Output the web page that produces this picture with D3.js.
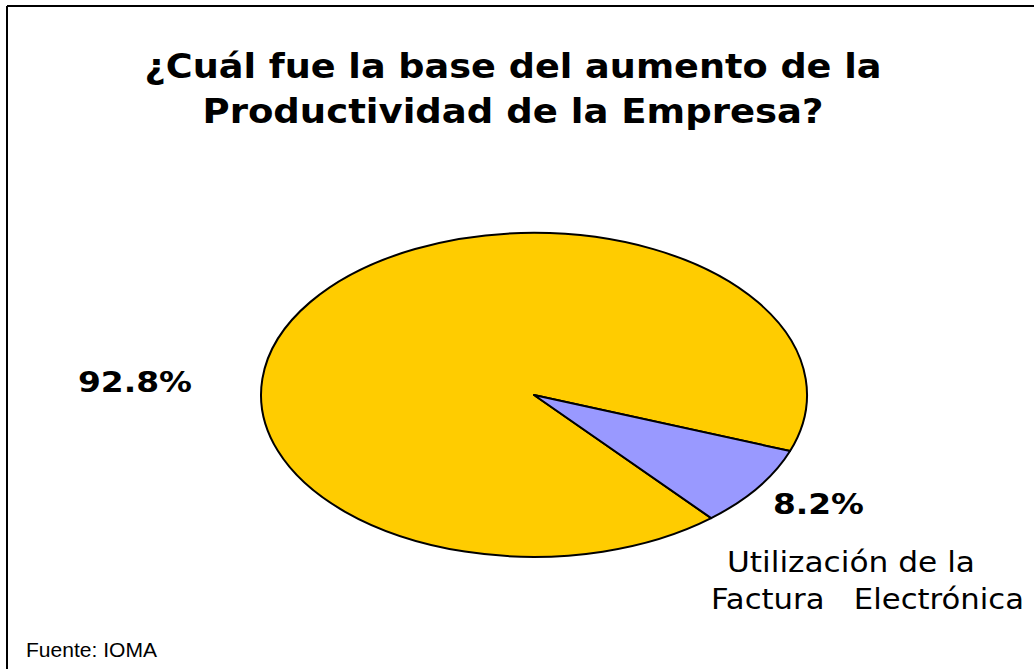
<!DOCTYPE html>
<html>
<head>
<meta charset="utf-8">
<script src="https://cdn.jsdelivr.net/npm/d3@7"></script>
<style>
  body { margin: 0; background: #fff; }
  svg { display: block; }
</style>
</head>
<body>
<svg id="chart" width="1034" height="669"></svg>
<script>
/*** DATA ***/
let categories = ["", "Utilización de la Factura Electrónica"],
    values     = [92.8, 8.2],
    valueLabels = ["92.8%", "8.2%"],
    colors     = ["#FFCC00", "#9999FF"];

let titleLines   = ["¿Cuál fue la base del aumento de la", "Productividad de la Empresa?"],
    catLines     = ["Utilización de la", "Factura   Electrónica"],
    sourceText   = "Fuente: IOMA";

/*** SETUP ***/
let width = 1034, height = 669;
let svg = d3.select("#chart");

// frame (top + left only, as in the picture)
svg.append("line").attr("x1", 7).attr("y1", 6).attr("x2", width).attr("y2", 6)
    .attr("stroke", "#000").attr("stroke-width", 2);
svg.append("line").attr("x1", 7).attr("y1", 6).attr("x2", 7).attr("y2", height)
    .attr("stroke", "#000").attr("stroke-width", 2);

// title
let titleY = [78, 123], titleW = [737, 621];
svg.selectAll(".title").data(titleLines).enter().append("text")
    .attr("class", "title")
    .attr("x", 513)
    .attr("y", (d, i) => titleY[i])
    .attr("text-anchor", "middle")
    .attr("textLength", (d, i) => titleW[i])
    .attr("lengthAdjust", "spacingAndGlyphs")
    .style("font-family", "'DejaVu Sans', Verdana, sans-serif")
    .style("font-weight", "bold")
    .style("font-size", "33px")
    .text(d => d);

/*** PIE ***/
let cx = 534, cy = 395, rx = 273, ry = 162;
let rot = 139.5 * Math.PI / 180;

let pie = d3.pie().sort(null).value(d => d)
    .startAngle(rot).endAngle(rot + 2 * Math.PI);
let arc = d3.arc().innerRadius(0).outerRadius(1);

let g = svg.append("g")
    .attr("transform", `translate(${cx},${cy}) scale(${rx},${ry})`);

g.selectAll("path").data(pie(values)).enter().append("path")
    .attr("d", arc)
    .attr("fill", (d, i) => colors[i])
    .attr("stroke", "#000")
    .attr("stroke-width", 2)
    .attr("stroke-linejoin", "round")
    .attr("vector-effect", "non-scaling-stroke");

/*** LABELS ***/
let pctPos = [[78, 392, 114], [773, 514, 91]];
svg.selectAll(".pct").data(valueLabels).enter().append("text")
    .attr("class", "pct")
    .attr("x", (d, i) => pctPos[i][0])
    .attr("y", (d, i) => pctPos[i][1])
    .attr("textLength", (d, i) => pctPos[i][2])
    .attr("lengthAdjust", "spacingAndGlyphs")
    .style("font-family", "'DejaVu Sans', Verdana, sans-serif")
    .style("font-weight", "bold")
    .style("font-size", "28px")
    .text(d => d);

let catPos = [[727, 572, 248], [711, 609, 313]];
svg.selectAll(".cat").data(catLines).enter().append("text")
    .attr("class", "cat")
    .attr("x", (d, i) => catPos[i][0])
    .attr("y", (d, i) => catPos[i][1])
    .attr("textLength", (d, i) => catPos[i][2])
    .attr("lengthAdjust", "spacingAndGlyphs")
    .attr("xml:space", "preserve")
    .style("white-space", "pre")
    .style("font-family", "'DejaVu Sans', Verdana, sans-serif")
    .style("font-size", "28px")
    .text(d => d);

// source
svg.append("text")
    .attr("x", 26).attr("y", 657)
    .attr("textLength", 131)
    .attr("lengthAdjust", "spacingAndGlyphs")
    .style("font-family", "'Liberation Sans', Arial, sans-serif")
    .style("font-size", "20px")
    .text(sourceText);
</script>
</body>
</html>
